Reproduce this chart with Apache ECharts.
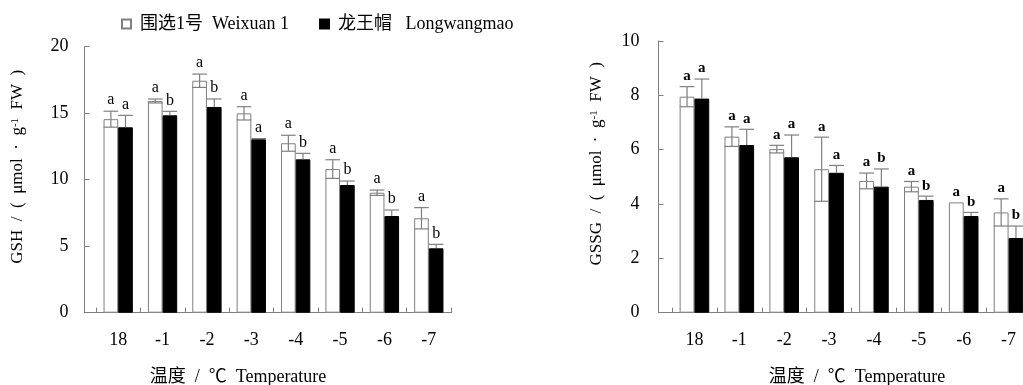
<!DOCTYPE html>
<html>
<head>
<meta charset="utf-8">
<script src="https://cdn.jsdelivr.net/npm/echarts@6/dist/echarts.min.js"></script>
<style>html,body{margin:0;padding:0;background:#fff;}#c{width:1023px;height:385px;}</style>
</head>
<body>
<div id="c"></div>
<script>
const categories = ['18', '-1', '-2', '-3', '-4', '-5', '-6', '-7'];
const seriesNames = ['围选1号  Weixuan 1', '龙王帽   Longwangmao'];

const gshWeixuan = [14.55, 15.92, 17.44, 14.99, 12.74, 10.80, 9.02, 7.10];
const gshWeixuanErr = [0.6, 0.15, 0.5, 0.5, 0.6, 0.7, 0.2, 0.8];
const gshLongwang = [13.94, 14.84, 15.47, 13.04, 11.53, 9.60, 7.27, 4.84];
const gshLongwangErr = [0.9, 0.3, 0.6, 0.05, 0.45, 0.3, 0.45, 0.3];
const gshWeixuanSig = ['a', 'a', 'a', 'a', 'a', 'a', 'a', 'a'];
const gshLongwangSig = ['a', 'b', 'b', 'a', 'b', 'b', 'b', 'b'];

const gssgWeixuan = [7.95, 6.48, 6.02, 5.28, 4.85, 4.64, 4.06, 3.69];
const gssgWeixuanErr = [0.37, 0.36, 0.14, 1.18, 0.29, 0.19, 0.0, 0.5];
const gssgLongwang = [7.88, 6.17, 5.72, 5.15, 4.64, 4.15, 3.56, 2.75];
const gssgLongwangErr = [0.72, 0.58, 0.82, 0.27, 0.65, 0.14, 0.13, 0.44];
const gssgWeixuanSig = ['a', 'a', 'a', 'a', 'a', 'a', 'a', 'a'];
const gssgLongwangSig = ['a', 'a', 'a', 'a', 'b', 'b', 'b', 'b'];

const gshTicks = { min: 0, max: 20, interval: 5 };
const gssgTicks = { min: 0, max: 10, interval: 2 };

const FONT = "'Liberation Serif', 'Times New Roman', 'Noto Sans CJK SC', serif";
const GRAY = '#7f7f7f';
const CAT_GAP = 0.34;

const chart = echarts.init(document.getElementById('c'));

function frameX(gi) {
  return { type: 'category', gridIndex: gi, data: categories, axisLine: { show: true, lineStyle: { color: GRAY, width: 1 } },
    axisTick: { show: false }, axisLabel: { show: false }, splitLine: { show: false } };
}
function barX(gi, namePad) {
  return { type: 'category', gridIndex: gi, data: categories,
    axisLine: { show: true, lineStyle: { color: GRAY, width: 1 } },
    axisTick: { show: true, inside: true, length: 5, lineStyle: { color: GRAY } },
    axisLabel: { margin: 19, fontFamily: FONT, fontSize: 18, color: '#000' },
    name: '温度  /  ℃  Temperature', nameLocation: 'middle', nameGap: 56,
    nameTextStyle: { fontFamily: FONT, fontSize: 18, color: '#000', padding: namePad } };
}
function frameY(gi, t, name, gap, labelMargin) {
  return { type: 'value', gridIndex: gi, min: t.min, max: t.max, interval: t.interval,
    axisLine: { show: true, lineStyle: { color: GRAY, width: 1 } },
    axisTick: { show: true, inside: true, length: 5, lineStyle: { color: GRAY } },
    axisLabel: { margin: labelMargin, fontFamily: FONT, fontSize: 18, color: '#000' },
    splitLine: { show: false },
    name: name, nameLocation: 'middle', nameGap: gap,
    nameTextStyle: { fontFamily: FONT, fontSize: 17, color: '#000', padding: [0, 0, 0, 26],
      rich: { sup: { fontFamily: FONT, fontSize: 11, color: '#000', verticalAlign: 'top', padding: [0, 0, 6, 0] } } } };
}
function hiddenY(gi, t) {
  return { type: 'value', gridIndex: gi, min: t.min, max: t.max, interval: t.interval, show: false };
}

function bars(ai, vals, white) {
  return { type: 'bar', name: white ? seriesNames[0] : seriesNames[1], xAxisIndex: ai, yAxisIndex: ai,
    data: vals, barGap: '0%', barCategoryGap: (CAT_GAP * 100) + '%',
    itemStyle: white ? { color: '#fff', borderColor: GRAY, borderWidth: 1 } : { color: '#000', borderColor: '#000', borderWidth: 1 },
    emphasis: { disabled: true }, z: 2 };
}

function errs(ai, vals, err, sig, side, upperOnly, bold, fs) {
  return { type: 'custom', xAxisIndex: ai, yAxisIndex: ai, z: 5, silent: true,
    data: vals.map((v, i) => [i, v, err[i]]),
    renderItem: function (params, api) {
      const i = api.value(0), v = api.value(1), e = api.value(2);
      const c = api.coord([i, v]);
      const catW = api.size([1, 0])[0];
      const bw = catW * (1 - CAT_GAP) / 2;
      const x = c[0] + side * bw / 2;
      const yTop = api.coord([i, v + e])[1];
      const yBot = upperOnly ? c[1] : api.coord([i, v - e])[1];
      const st = { stroke: GRAY, lineWidth: 1.2 };
      const ch = [];
      if (e > 0) {
        ch.push({ type: 'line', shape: { x1: x, y1: yTop, x2: x, y2: yBot }, style: st });
        ch.push({ type: 'line', shape: { x1: x - bw / 2, y1: yTop, x2: x + bw / 2, y2: yTop }, style: st });
        if (!upperOnly) ch.push({ type: 'line', shape: { x1: x - bw / 2, y1: yBot, x2: x + bw / 2, y2: yBot }, style: st });
      }
      ch.push({ type: 'text', style: { text: sig[params.dataIndex], x: x, y: yTop - 3, textAlign: 'center', textVerticalAlign: 'bottom',
        fontFamily: FONT, fontSize: fs, fontWeight: bold ? 'bold' : 'normal', fill: '#000' } });
      return { type: 'group', children: ch };
    } };
}

const gridBase = { outerBoundsMode: 'none', containLabel: false };
const option = {
  animation: false,
  backgroundColor: '#fff',
  legend: {
    data: seriesNames, left: 116, top: 10, itemWidth: 9, itemHeight: 9, itemGap: 30, icon: 'rect',
    textStyle: { fontFamily: FONT, fontSize: 18, color: '#000', padding: [0, 0, 0, 4] },
    selectedMode: false
  },
  grid: [
    Object.assign({ left: 84.5, right: 572, top: 46.7, bottom: 72.3 }, gridBase),
    Object.assign({ left: 96, right: 572, top: 46.7, bottom: 72.3 }, gridBase),
    Object.assign({ left: 658.5, right: -8, top: 41, bottom: 72.3 }, gridBase),
    Object.assign({ left: 672, right: -8, top: 41, bottom: 72.3 }, gridBase)
  ],
  xAxis: [frameX(0), barX(1, [0, 71, 0, 0]), frameX(2), barX(3, [0, 0, 0, 11])],
  yAxis: [frameY(0, gshTicks, 'GSH  /  (  μmol  ·  g{sup|-1}  FW  )', 58, 16), hiddenY(1, gshTicks),
          frameY(2, gssgTicks, 'GSSG  /  (  μmol  ·  g{sup|-1}  FW  )', 53, 19), hiddenY(3, gssgTicks)],
  series: [
    bars(1, gshWeixuan, true), bars(1, gshLongwang, false),
    errs(1, gshWeixuan, gshWeixuanErr, gshWeixuanSig, -1, false, false, 16),
    errs(1, gshLongwang, gshLongwangErr, gshLongwangSig, 1, true, false, 16),
    bars(3, gssgWeixuan, true), bars(3, gssgLongwang, false),
    errs(3, gssgWeixuan, gssgWeixuanErr, gssgWeixuanSig, -1, false, true, 15),
    errs(3, gssgLongwang, gssgLongwangErr, gssgLongwangSig, 1, true, true, 15)
  ]
};
chart.setOption(option);
</script>
</body>
</html>
